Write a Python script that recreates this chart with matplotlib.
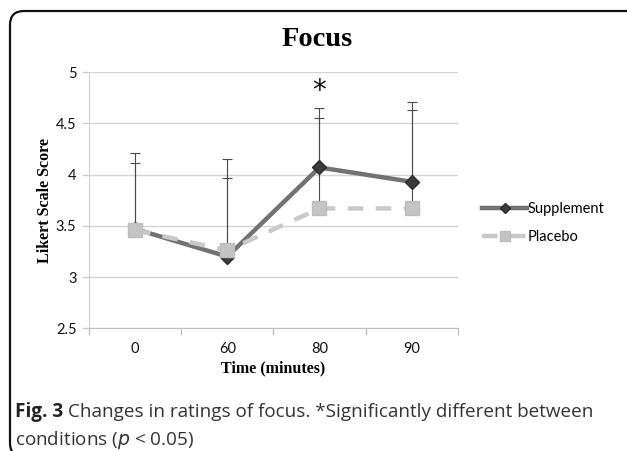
import matplotlib
matplotlib.use("Agg")
import matplotlib.pyplot as plt
from matplotlib.patches import FancyBboxPatch
import numpy as np

# data
times = ["0", "60", "80", "90"]
supp_mean = [3.47, 3.20, 4.07, 3.93]
supp_err = [0.74, 0.95, 0.58, 0.78]
plac_mean = [3.46, 3.26, 3.67, 3.67]
plac_err = [0.65, 0.71, 0.88, 0.96]

x = np.arange(len(times))

fig = plt.figure(figsize=(6.27, 4.51), dpi=100)
ax = fig.add_axes([0.142, 0.272, 0.588, 0.568])

# error bars (upper only)
ax.errorbar(x, supp_mean, yerr=[np.zeros(4), supp_err], fmt="none",
            ecolor="#4a4a4a", elinewidth=0.8, capsize=3.5, capthick=0.8, zorder=2)
ax.errorbar(x, plac_mean, yerr=[np.zeros(4), plac_err], fmt="none",
            ecolor="#4a4a4a", elinewidth=0.8, capsize=3.5, capthick=0.8, zorder=2)

l1, = ax.plot(x, supp_mean, color="#727272", lw=3.2, marker="D", ms=7,
              mfc="#3c3c3c", mec="#2a2a2a", zorder=3, label="Supplement")
l2, = ax.plot(x, plac_mean, color="#c9c9c9", lw=3.2, ls=(0, (3.5, 2.8)),
              marker="s", ms=10, mfc="#c4c4c4", mec="#bdbdbd", zorder=4,
              label="Placebo")

ax.set_xlim(-0.5, 3.5)
ax.set_ylim(2.5, 5)
ax.set_yticks([2.5, 3, 3.5, 4, 4.5, 5])
ax.set_yticklabels(["2.5", "3", "3.5", "4", "4.5", "5"])
ax.set_xticks(x)
ax.set_xticklabels(times)
ax.set_xticks([-0.5, 0.5, 1.5, 2.5, 3.5], minor=True)
ax.tick_params(axis="x", which="major", length=0, pad=10, labelsize=10.5,
               labelcolor="#111111")
ax.tick_params(axis="x", which="minor", length=5, color="#bfbfbf", width=0.9)
ax.tick_params(axis="y", length=5, color="#cfcfcf", width=0.9, pad=4,
               labelsize=10.5, labelcolor="#111111")
for lab in ax.get_xticklabels() + ax.get_yticklabels():
    lab.set_fontfamily("Lato")

ax.grid(axis="y", color="#d4d4d4", lw=1)
ax.set_axisbelow(True)
for s in ["top", "right"]:
    ax.spines[s].set_visible(False)
ax.spines["left"].set_color("#cfcfcf")
ax.spines["bottom"].set_color("#bfbfbf")

ax.set_ylabel("Likert Scale Score", fontfamily="Liberation Serif",
              fontweight="bold", fontsize=11.5, labelpad=2)
ax.set_xlabel("Time (minutes)", fontfamily="Liberation Serif",
              fontweight="bold", fontsize=11.5, labelpad=3)

ax.text(2, 4.82, "*", ha="center", va="center", fontsize=20,
        fontfamily="DejaVu Sans", color="#111111")

fig.text(0.506, 0.913, "Focus", ha="center", va="center",
         fontfamily="Liberation Serif", fontweight="bold", fontsize=20.5)

fig.legend(handles=[l1, l2], loc="center left",
           bbox_to_anchor=(0.748, 0.505), frameon=False,
           prop={"family": "Lato", "size": 10.5}, markerscale=0.7,
           handlelength=3.1, handletextpad=0.05, labelspacing=0.95)

# caption
fig.canvas.draw()
r = fig.canvas.get_renderer()
t1 = fig.text(0.024, 0.087, "Fig. 3", fontfamily="Open Sans", fontweight="bold",
              fontsize=13.6, color="#222222", va="center")
bb = t1.get_window_extent(renderer=r)
fig.text((bb.x1 + 5) / fig.bbox.width, 0.087,
         "Changes in ratings of focus. *Significantly different between",
         fontfamily="Open Sans", fontsize=13.6, color="#333333", va="center")
fig.text(0.024, 0.025, "conditions ($\\it{p}$ < 0.05)", fontfamily="Open Sans",
         fontsize=13.6, color="#333333", va="center")

# rounded frame, only left and top edges show
frame = FancyBboxPatch((10, -6), 700, 446, boxstyle="round,pad=0,rounding_size=14",
                       transform=None, fill=False, ec="#111111", lw=1.6)
fig.patches.append(frame)

fig.savefig("out.png", dpi=100)
